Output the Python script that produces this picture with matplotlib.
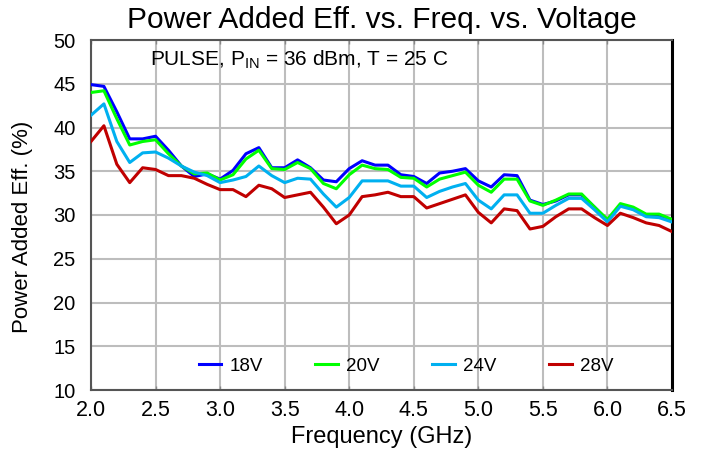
import matplotlib
matplotlib.use("Agg")
import matplotlib.pyplot as plt
import numpy as np

plt.rcParams['font.family'] = ['Liberation Sans', 'DejaVu Sans']

freq = [round(2.0 + 0.1 * i, 1) for i in range(46)]

v18 = [44.9, 44.7, 41.8, 38.7, 38.7, 39.0, 37.4, 35.6, 34.4, 34.7,
       34.1, 35.1, 37.0, 37.7, 35.4, 35.4, 36.3, 35.4, 34.0, 33.8,
       35.3, 36.2, 35.7, 35.7, 34.6, 34.4, 33.6, 34.8, 35.0, 35.3,
       33.9, 33.2, 34.6, 34.5, 31.7, 31.2, 31.6, 32.3, 32.3, 30.9,
       29.4, 31.1, 30.7, 30.0, 29.9, 29.3]
v20 = [44.0, 44.2, 41.0, 38.0, 38.4, 38.6, 37.0, 35.6, 34.7, 34.8,
       34.0, 34.6, 36.4, 37.4, 35.3, 35.2, 36.0, 35.3, 33.6, 33.0,
       34.6, 35.7, 35.3, 35.2, 34.3, 34.2, 33.2, 34.1, 34.5, 34.9,
       33.4, 32.6, 34.1, 34.1, 31.6, 31.1, 31.7, 32.4, 32.4, 30.9,
       29.5, 31.3, 30.9, 30.1, 30.1, 29.5]
v24 = [41.4, 42.7, 38.4, 36.0, 37.1, 37.2, 36.5, 35.6, 34.9, 34.5,
       33.7, 34.0, 34.4, 35.6, 34.5, 33.7, 34.2, 34.1, 32.4, 30.9,
       32.0, 33.9, 33.9, 33.9, 33.3, 33.3, 32.0, 32.7, 33.2, 33.6,
       31.7, 30.7, 32.3, 32.3, 30.2, 30.2, 31.1, 31.9, 31.9, 30.6,
       29.2, 31.0, 30.6, 29.8, 29.7, 29.2]
v28 = [38.4, 40.2, 35.8, 33.7, 35.4, 35.2, 34.5, 34.5, 34.2, 33.5,
       32.9, 32.9, 32.1, 33.4, 33.0, 32.0, 32.3, 32.6, 30.9, 29.0,
       30.0, 32.1, 32.3, 32.6, 32.1, 32.1, 30.8, 31.3, 31.8, 32.3,
       30.3, 29.1, 30.7, 30.5, 28.4, 28.7, 29.8, 30.7, 30.7, 29.7,
       28.8, 30.2, 29.7, 29.1, 28.8, 28.1]

series = [("18V", v18, "#0000FF"), ("20V", v20, "#00FF00"),
          ("24V", v24, "#00B0F0"), ("28V", v28, "#C00000")]

xticks = [2.0, 2.5, 3.0, 3.5, 4.0, 4.5, 5.0, 5.5, 6.0, 6.5]
yticks = [10, 15, 20, 25, 30, 35, 40, 45, 50]

fig = plt.figure(figsize=(7.02, 4.57), dpi=100)
ax = fig.add_axes([91 / 702, 1 - 390 / 457, (672 - 91) / 702, (390 - 40) / 457])

for label, vals, col in series:
    ax.plot(freq, vals, color=col, lw=2.2, label=label, zorder=3)

ax.set_xlim(2.0, 6.5)
ax.set_ylim(10, 50)
ax.set_xticks(xticks)
ax.set_xticklabels([f"{t:.1f}" for t in xticks])
ax.set_yticks(yticks)
ax.grid(True, color="#BDBDBD", lw=1.5)
ax.tick_params(axis="x", direction="in", length=3, width=1, color="#888888",
               top=True, labelsize=15.5, pad=7)
ax.tick_params(axis="y", length=0, labelsize=14.5, pad=11)
for side in ["left", "bottom", "top"]:
    ax.spines[side].set_color("#555555")
    ax.spines[side].set_linewidth(1.5)
ax.spines["right"].set_color("black")
ax.spines["right"].set_linewidth(2.2)

ax.set_title("Power Added Eff. vs. Freq. vs. Voltage", fontsize=21.5, pad=9)
ax.set_xlabel("Frequency (GHz)", fontsize=17, labelpad=4)
ax.set_ylabel("Power Added Eff. (%)", fontsize=16)
ax.yaxis.set_label_coords((33 - 91) / 581, (390 - 226.5) / 350)

ax.text((150 - 91) / 581, (390 - 60) / 350,
        r"PULSE, P$_{\mathregular{IN}}$ = 36 dBm, T = 25 C",
        transform=ax.transAxes, fontsize=15, va="center", ha="left")

ax.legend(loc="center", ncol=4, frameon=False, fontsize=13.5,
          handlelength=1.2, handletextpad=0.45, columnspacing=2.8,
          bbox_to_anchor=((406 - 91) / 581, (390 - 366) / 350))

fig.savefig("out.png", dpi=100)
